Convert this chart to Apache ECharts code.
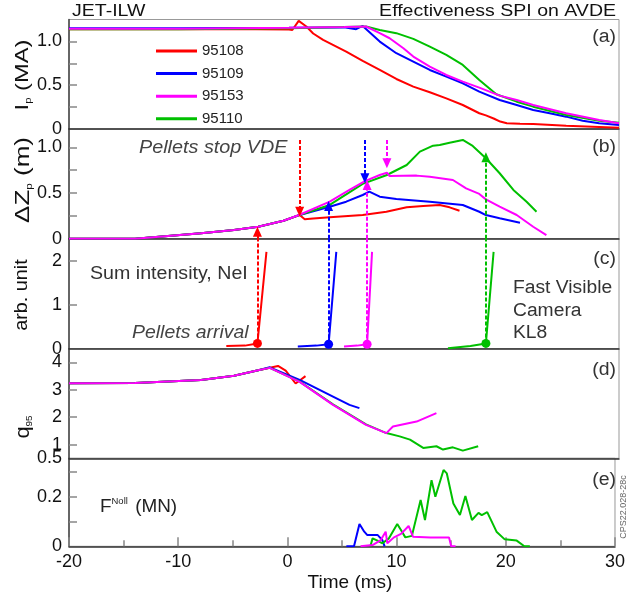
<!DOCTYPE html>
<html><head><meta charset="utf-8">
<script src="https://cdn.jsdelivr.net/npm/echarts@6/dist/echarts.min.js"></script>
<style>html,body{margin:0;padding:0;background:#fff}#c{width:628px;height:601px}</style>
</head><body><div id="c"></div>
<script>
// ---------------- data ----------------
const shots = ['95108', '95109', '95153', '95110'];
const timeTicks = [-20, -10, 0, 10, 20, 30];

// (a) plasma current Ip (MA)
const ip95108 = [[-20,1.14],[-10,1.14],[-3,1.14],[0,1.135],[0.3,1.13],[0.88,1.234],[1.58,1.17],[2.2,1.09],[3.1,1.017],[5.2,0.884],[6.7,0.777],[8.25,0.674],[9.76,0.571],[11.3,0.484],[12.8,0.419],[14.3,0.35],[15.8,0.274],[17.3,0.18],[17.9,0.155],[18.6,0.12],[19.2,0.085],[19.8,0.065],[21,0.06],[22.2,0.057],[25.2,0.038],[30,0.015]];
const ip95109 = [[-20,1.15],[-10,1.15],[0,1.155],[5,1.16],[6.1,1.14],[6.7,1.177],[7.6,1.074],[8.25,0.998],[9.76,0.865],[11.3,0.77],[12.8,0.674],[14.3,0.598],[15.8,0.522],[17.3,0.426],[19.15,0.331],[20.7,0.274],[22.2,0.217],[23.7,0.179],[25.2,0.141],[26.7,0.095],[28.2,0.065],[30,0.046]];
const ip95153 = [[-20,1.145],[-10,1.145],[0,1.155],[5,1.165],[7,1.17],[8.25,1.094],[9.15,1.036],[10.4,0.922],[11.3,0.827],[12.8,0.712],[14.3,0.617],[15.8,0.541],[17.3,0.472],[19.15,0.381],[20.7,0.331],[22.2,0.274],[25.2,0.179],[28.2,0.103],[30,0.065]];
const ip95110 = [[-20,1.14],[-10,1.14],[0,1.15],[5,1.165],[7,1.17],[8.25,1.131],[9.76,1.094],[11.3,1.029],[12.8,0.941],[14.3,0.846],[15.8,0.731],[17.3,0.56],[18.85,0.396],[20.7,0.312],[22.2,0.255],[25.2,0.16],[28.2,0.095],[30,0.072]];

// (b) vertical displacement dZp (m)
const dzCommon = [[-20,0],[-14,0],[-11,0.03],[-8,0.06],[-5,0.095],[-2.8,0.131],[-0.5,0.197]];
const dz95108 = [[0.97,0.259],[1.43,0.212],[2.2,0.22],[3.7,0.234],[6.7,0.259],[8.85,0.295],[10.7,0.343],[12.2,0.358],[13.7,0.369],[14.6,0.343],[15.5,0.306]];
const dz95109 = [[0.97,0.26],[3.7,0.35],[5.2,0.405],[6.7,0.478],[7.3,0.514],[8.25,0.46],[9.76,0.434],[12.8,0.405],[15.8,0.369],[17.3,0.295],[17.9,0.259],[19.15,0.223],[21,0.175]];
const dz95153 = [[0.97,0.262],[3.7,0.405],[5.5,0.533],[6.9,0.63],[8.25,0.697],[8.9,0.722],[9.15,0.686],[11.6,0.69],[12.8,0.678],[14.9,0.642],[16.1,0.551],[17.3,0.49],[17.9,0.43],[19.15,0.35],[20.7,0.259],[22.2,0.131],[23.4,0.04]];
const dz95110 = [[0.97,0.26],[3.7,0.369],[6.7,0.6],[8.9,0.697],[10.7,0.806],[11.9,0.952],[13.1,1.018],[13.7,1.025],[14.6,1.05],[15.8,1.08],[16.7,1.015],[17.9,0.88],[19.15,0.716],[20.4,0.533],[21.6,0.405],[22.5,0.295]];

// (c) NeI sum intensity (arb. unit)
const ne95108 = [[-5.7,0.06],[-4,0.07],[-2.87,0.12],[-2.05,2.2]];
const ne95109 = [[0.8,0.05],[2.5,0.07],[3.6,0.1],[4.3,2.2]];
const ne95153 = [[5.0,0.05],[6.2,0.07],[7.1,0.1],[7.55,2.2]];
const ne95110 = [[14.45,0.01],[16.5,0.06],[17.9,0.12],[18.6,2.2]];

// (d) q95
const qCommon = [[-20,3.24],[-14,3.25],[-8,3.36],[-5,3.51],[-2.7,3.72]];
const q95108 = [[-1,3.87],[-0.3,3.7],[0.6,3.23],[1.0,3.35],[1.5,3.5]];
const q95109 = [[-1.75,3.82],[0.97,3.36],[4,2.75],[5.5,2.45],[6.4,2.33]];
const q95153 = [[-1.75,3.8],[0.97,3.29],[4,2.45],[7,1.72],[8.85,1.42],[9.45,1.66],[11.6,1.84],[13.4,2.15]];
const q95110 = [[-1.75,3.8],[0.97,3.3],[4,2.47],[7,1.74],[8.85,1.42],[10.06,1.3],[11,1.18],[12.2,0.88],[13.4,0.94],[14,0.82],[14.9,0.9],[15.8,0.78],[17.2,0.94]];

// (e) Noll force (MN)
const f95108 = [];
const f95109 = [[5.4,0],[6.1,0],[6.6,0.09],[7.04,0.059],[7.3,0.046],[8.25,0.046],[8.7,0.025],[8.9,0]];
const f95153 = [[6.7,0],[7.8,0.005],[8.55,0.025],[9.0,0.059],[9.15,0.012],[9.76,0.036],[10.4,0.05],[11.1,0.082],[11.5,0.039],[13.1,0.036],[14.8,0.036],[15.0,0],[15.4,0]];
const f95110 = [[7.6,0],[7.8,0.032],[8.25,0.023],[8.7,0.012],[9.3,0.032],[10.06,0.09],[10.4,0.066],[10.8,0.036],[11.4,0.042],[12.2,0.187],[12.6,0.106],[13.2,0.267],[13.55,0.2],[14.3,0.308],[14.6,0.294],[15.2,0.173],[15.8,0.126],[16.3,0.203],[16.9,0.106],[17.5,0.135],[17.8,0.126],[18.3,0.138],[19.15,0.059],[19.9,0.028],[21.0,0.023],[21.7,0],[22.2,0]];

// pellet arrows
const stopVdeT = [0.97, 6.9, 8.9];        // time of "pellets stop VDE" arrows (95108,95109,95153)
const stopVdeTip = [0.295, 0.66, 0.825];  // dZp at arrow tips
const stopVdeFrom = 1.08;
const arrivalT = [-2.87, 3.6, 7.1, 17.9]; // pellets arrival time
const arrivalV = [0.12, 0.1, 0.1, 0.12];  // NeI level at arrival dot
const arrivalTip = [0.077, 0.358, 0.588, 0.89]; // dZp at arrow tips

// y-axis ticks/labels per panel
const yTicksA = [0.25, 0.5, 0.75, 1.0], yLabelsA = [0, 0.5, 1.0];
const yTicksB = [0.25, 0.5, 0.75, 1.0], yLabelsB = [0, 0.5, 1.0];
const yTicksC = [1, 2], yLabelsC = [0, 1, 2];
const yTicksD = [1, 2, 3, 4], yLabelsD = [1, 2, 3, 4], yLabelsDmin = [0.5];
const yTicksE = [0.1, 0.2, 0.3], yLabelsE = [0, 0.2];

// ---------------- chart ----------------
const colors = ['#ff0000', '#0000ff', '#ff00ff', '#00c000'];
const FONT = '"Liberation Sans", Arial, sans-serif';
const panels = [
  {top: 19.5, height: 109.5, min: 0, max: 1.25},
  {top: 129, height: 109.7, min: 0, max: 1.2},
  {top: 238.7, height: 110, min: 0, max: 2.5},
  {top: 348.7, height: 109.6, min: 0.5, max: 4.5},
  {top: 458.3, height: 88, min: 0, max: 0.355}
];
const ticks = [yTicksA, yTicksB, yTicksC, yTicksD, yTicksE];
const labels = [yLabelsA, yLabelsB, yLabelsC, yLabelsD, yLabelsE];
const fmts = [
  v => v === 0 ? '0' : v.toFixed(1),
  v => v === 0 ? '0' : v.toFixed(1),
  v => String(v),
  v => String(v),
  v => String(v)
];

const grid = panels.map(p => ({left: 69, right: 9, top: p.top, height: p.height, show: true, borderColor: '#999', borderWidth: 1}));
const xAxis = panels.map((p, i) => ({
  type: 'value', gridIndex: i, min: -20, max: 30, interval: 10,
  axisLine: {show: true, onZero: false, lineStyle: {color: '#333', width: 1.5}},
  axisTick: {show: i === 4, inside: true, length: 9, lineStyle: {color: '#888', width: 1.5}},
  minorTick: {show: i === 4, splitNumber: 2, length: 6, lineStyle: {color: '#888', width: 1.5}},
  axisLabel: {show: i === 4, fontSize: 18, color: '#111', fontFamily: FONT, margin: 7,
    customValues: timeTicks},
  splitLine: {show: false},
  name: i === 4 ? 'Time (ms)' : '', nameLocation: 'middle', nameGap: 27,
  nameTextStyle: {fontSize: 19, color: '#111', fontFamily: FONT, padding: [0, 0, 0, 16]}
}));
const yAxis = panels.map((p, i) => ({
  type: 'value', gridIndex: i, min: p.min, max: p.max,
  axisLine: {show: true, onZero: false, lineStyle: {color: '#444', width: 1.5}},
  axisTick: {show: true, inside: true, length: 8, customValues: ticks[i], lineStyle: {color: '#888', width: 1.5}},
  axisLabel: {fontSize: 18, color: '#111', fontFamily: FONT, margin: 7, customValues: labels[i], formatter: fmts[i],
    showMinLabel: true, showMaxLabel: true, hideOverlap: false},
  splitLine: {show: false}
}));
// extra label-only axis for the bottom "0.5" of panel (d)
yAxis.push({
  type: 'value', gridIndex: 3, position: 'left', offset: 0, min: panels[3].min, max: panels[3].max,
  axisLine: {show: false, onZero: false}, axisTick: {show: false}, splitLine: {show: false},
  axisLabel: {fontSize: 18, color: '#111', fontFamily: FONT, margin: 7, customValues: yLabelsDmin,
    formatter: v => String(v), showMinLabel: true}
});

const panelData = [
  [ip95108, ip95109, ip95153, ip95110],
  [dzCommon.concat(dz95108), dzCommon.concat(dz95109), dzCommon.concat(dz95153), dzCommon.concat(dz95110)],
  [ne95108, ne95109, ne95153, ne95110],
  [qCommon.concat(q95108), qCommon.concat(q95109), qCommon.concat(q95153), qCommon.concat(q95110)],
  [f95108, f95109, f95153, f95110]
];
const drawOrder = [0, 1, 3, 2];
const series = [];
panelData.forEach((set, pi) => {
  drawOrder.forEach(k => {
    const s = {
      type: 'line', name: shots[k], xAxisIndex: pi, yAxisIndex: pi,
      data: set[k], showSymbol: false, symbol: 'none', smooth: false,
      lineStyle: {color: colors[k], width: 2}, itemStyle: {color: colors[k]},
      z: 3
    };
    const dash = {type: [4, 2], width: 2, color: colors[k]};
    if (pi === 1) {
      const lines = [];
      if (k < stopVdeT.length) lines.push([{coord: [stopVdeT[k], stopVdeFrom]}, {coord: [stopVdeT[k], stopVdeTip[k]]}]);
      lines.push([{coord: [arrivalT[k], 0]}, {coord: [arrivalT[k], arrivalTip[k]]}]);
      s.markLine = {silent: true, symbol: ['none', 'triangle'], symbolSize: [9, 10], symbolOffset: [0, 0],
        label: {show: false}, lineStyle: dash, data: lines, animation: false};
    }
    if (pi === 2) {
      s.markLine = {silent: true, symbol: ['none', 'none'], label: {show: false}, lineStyle: dash,
        data: [[{coord: [arrivalT[k], arrivalV[k]]}, {coord: [arrivalT[k], panels[2].max]}]], animation: false};
      s.markPoint = {silent: true, symbol: 'circle', symbolSize: 9, label: {show: false},
        itemStyle: {color: colors[k]}, data: [{coord: [arrivalT[k], arrivalV[k]]}], animation: false};
    }
    series.push(s);
  });
});

const txt = (x, y, text, opt, sx) => ({
  type: 'text', x: x, y: y, silent: true, scaleX: sx || 1,
  style: Object.assign({text: text, fill: '#222', font: '18px ' + FONT, align: 'left', verticalAlign: 'middle'}, opt || {})
});
const subRich = (size) => ({
  m: {fontSize: size, fontFamily: FONT, fill: '#111', lineHeight: size + 2},
  s: {fontSize: 9, fontFamily: FONT, fill: '#111', verticalAlign: 'bottom', lineHeight: 9}
});
const vtitle = (x, y, text, size, sx) => ({
  type: 'text', x: x, y: y, rotation: Math.PI / 2, scaleX: sx, silent: true,
  style: {text: text, rich: subRich(size), fill: '#111', align: 'center', verticalAlign: 'middle'}
});
const graphic = [
  txt(72, 12, 'JET-ILW', {font: '16px ' + FONT, fill: '#111'}, 1.22),
  txt(616, 12, 'Effectiveness SPI on AVDE', {font: '16px ' + FONT, fill: '#111', align: 'right'}, 1.22),
  txt(616, 37, '(a)', {font: '18px ' + FONT, align: 'right', fill: '#333'}, 1.08),
  txt(616, 147, '(b)', {font: '18px ' + FONT, align: 'right', fill: '#333'}, 1.08),
  txt(616, 259, '(c)', {font: '18px ' + FONT, align: 'right', fill: '#333'}, 1.08),
  txt(616, 370, '(d)', {font: '18px ' + FONT, align: 'right', fill: '#333'}, 1.08),
  txt(616, 480, '(e)', {font: '18px ' + FONT, align: 'right', fill: '#333'}, 1.08),
  txt(139, 148, 'Pellets stop VDE', {font: 'italic 18px ' + FONT, fill: '#444'}, 1.1),
  txt(90, 274, 'Sum intensity, NeI', {fill: '#333'}, 1.09),
  txt(132, 333, 'Pellets arrival', {font: 'italic 18px ' + FONT, fill: '#444'}, 1.08),
  txt(513, 288, 'Fast Visible', {fill: '#333'}, 1.07),
  txt(513, 311, 'Camera', {fill: '#333'}, 1.07),
  txt(513, 333, 'KL8', {fill: '#333'}, 1.07),
  vtitle(23, 75, '{m|I}{s|p}{m| (MA)}', 19, 1.25),
  vtitle(23, 180, '{m|ΔZ}{s|p}{m| (m)}', 20, 1.3),
  vtitle(22, 295, '{m|arb. unit}', 18, 1.1),
  vtitle(23, 427, '{m|q}{s|95}', 20, 1.1),
  {type: 'text', x: 100, y: 507, silent: true, scaleX: 1.05, style: {
    text: '{m|F}{s|Noll}{m| (MN)}', fill: '#222', align: 'left', verticalAlign: 'middle',
    rich: {m: {fontSize: 18, fontFamily: FONT, fill: '#222', lineHeight: 20},
           s: {fontSize: 9, fontFamily: FONT, fill: '#222', verticalAlign: 'top', lineHeight: 9, padding: [0, 2, 0, 0]}}
  }},
  {type: 'text', x: 624, y: 507, rotation: Math.PI / 2, silent: true,
   style: {text: 'CPS22.028-28c', font: '9px ' + FONT, fill: '#666', align: 'center', verticalAlign: 'middle'}}
];

const chart = echarts.init(document.getElementById('c'), null, {renderer: 'canvas'});
chart.setOption({
  animation: false,
  grid: grid, xAxis: xAxis, yAxis: yAxis, series: series, graphic: graphic,
  legend: {
    data: shots, orient: 'vertical', left: 151, top: 38.5, itemWidth: 41, itemHeight: 3, itemGap: 7.6,
    icon: 'rect', selectedMode: false, textStyle: {fontSize: 15, color: '#222', fontFamily: FONT, lineHeight: 15}
  }
});
</script></body></html>
